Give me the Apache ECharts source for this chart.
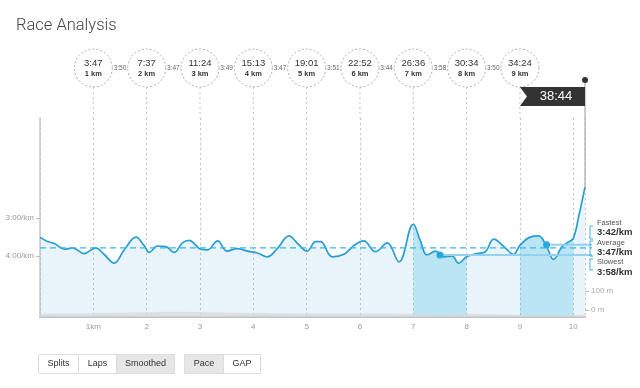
<!DOCTYPE html>
<html><head><meta charset="utf-8">
<script src="https://cdn.jsdelivr.net/npm/echarts@6/dist/echarts.min.js"></script>
<style>html,body{margin:0;padding:0;background:#fff}#c{width:640px;height:388px}</style>
</head><body><div id="c"></div>
<script>
// ---- data ----
const paceKm = [0.00,0.14,0.27,0.46,0.61,0.83,1.04,1.20,1.39,1.58,1.80,1.95,2.05,2.20,2.36,2.52,2.67,2.80,2.89,3.01,3.14,3.33,3.51,3.70,3.89,4.08,4.26,4.45,4.67,4.83,5.01,5.17,5.26,5.48,5.70,5.89,6.07,6.29,6.51,6.73,7.00,7.13,7.26,7.42,7.57,7.73,7.85,8.00,8.19,8.35,8.51,8.70,8.88,9.00,9.19,9.35,9.50,9.63,9.79,9.90,10.00,10.10,10.22];
const paceSec = [210,217,220,229,227,236,227,237,251,230,210,223,234,224,225,234,219,215,220,229,230,216,232,228,232,235,241,228,208,220,232,217,217,241,237,223,216,233,219,249,190,215,238,232,241,240,251,241,236,233,213,225,237,223,210,208,225,245,225,218,212,178,131];
const elevKm = [0,0.5,1,1.5,2,2.5,3,3.5,4,4.5,5,5.5,6,6.5,7,7.5,8,8.5,9,9.5,10,10.22];
const elevM = [-20,-19,-17,-15,-12,-9,-11,-14,-16,-17,-18,-18,-19,-19,-21,-22,-21,-23,-26,-27,-27,-26];
const kmMarks = [1,2,3,4,5,6,7,8,9];
const cumTimes = ['3:47','7:37','11:24','15:13','19:01','22:52','26:36','30:34','34:24'];
const splitPaces = ['3:50','3:47','3:49','3:47','3:51','3:44','3:58','3:50'];
const highlightRanges = [[7,8],[9,10]];
const finishKm = 10.22;
const finishTime = '38:44';
const paceTicks = [180,240];
const elevTicks = [0,100];
const fastest = {km:9.5, sec:222, label:'3:42/km'};
const slowest = {km:7.5, sec:238, label:'3:58/km'};
const average = {sec:227, label:'3:47/km'};

const pts = paceKm.map((k,i)=>[k,paceSec[i]]);
const elevPts = elevKm.map((k,i)=>[k,elevM[i]]);
function fmtPace(s){const m=Math.floor(s/60),r=s%60;return m+':'+(r<10?'0':'')+r+'/km';}

const chart = echarts.init(document.getElementById('c'), null, {renderer:'canvas'});
const FF = '"Liberation Sans", Arial, sans-serif';

const hlSeries = highlightRanges.map(r=>({
  type:'line', smooth:0.4, symbol:'none', silent:true, z:3,
  data: pts.filter(p=>p[0]>=r[0]-1e-9 && p[0]<=r[1]+1e-9),
  lineStyle:{width:0, opacity:0},
  areaStyle:{origin:'end', color:'rgba(100,200,235,0.5)'}
}));

chart.setOption({
  animation:false,
  title:{text:'Race Analysis', left:11, top:12, textStyle:{fontFamily:'Roboto, sans-serif', fontWeight:300, fontSize:16.5, color:'#444'}},
  grid:{left:40, right:55, top:118, bottom:71},
  xAxis:{type:'value', min:0, max:finishKm, interval:1,
    axisLine:{onZero:false, lineStyle:{color:'#c4c4c4', width:2}},
    axisTick:{show:false},
    splitLine:{show:true, lineStyle:{color:'#c4c4c4', type:[2,3], width:1}},
    axisLabel:{color:'#999', fontSize:8, fontFamily:FF, margin:6, showMinLabel:false, showMaxLabel:false,
      formatter:v=> v===1 ? '1km' : String(v)}
  },
  yAxis:[
    {type:'value', inverse:true, min:22, max:336, position:'left',
      axisLine:{show:true, onZero:false, lineStyle:{color:'#c8c8c8', width:1.5}},
      axisTick:{show:true, customValues:paceTicks, length:4, lineStyle:{color:'#bbb'}},
      axisLabel:{customValues:paceTicks, formatter:v=>fmtPace(v), color:'#999', fontSize:8, fontFamily:FF, margin:6},
      splitLine:{show:false}},
    {type:'value', min:-37, max:1010, position:'right',
      axisLine:{show:false, onZero:false},
      axisTick:{show:true, customValues:elevTicks, length:4, inside:false, lineStyle:{color:'#bbb'}},
      axisLabel:{customValues:elevTicks, formatter:v=>v+' m', color:'#aaa', fontSize:8, fontFamily:FF, margin:6},
      splitLine:{show:false}}
  ],
  series:[
    {type:'line', smooth:0.4, symbol:'none', silent:true, z:2, data:pts,
      lineStyle:{width:0, opacity:0}, areaStyle:{origin:'end', color:'rgba(40,155,210,0.15)'}},
    ...hlSeries,
    {type:'line', smooth:0.4, symbol:'none', silent:true, z:4, yAxisIndex:1, data:elevPts,
      lineStyle:{width:0, opacity:0}, areaStyle:{origin:'start', color:'#d9d9d9'}},
    {type:'line', smooth:0.4, symbol:'none', silent:true, z:6, data:pts,
      lineStyle:{width:1.7, color:'#2a9dd2'}}
  ]
});

function px(x,y){return chart.convertToPixel({xAxisIndex:0,yAxisIndex:0},[x,y]);}
const g = [];
const circY = 68, R = 19;
kmMarks.forEach((k,i)=>{
  const x = px(k,200)[0];
  g.push({type:'line', z:1, shape:{x1:x,y1:circY+R,x2:x,y2:118}, style:{stroke:'#c4c4c4', lineWidth:1, lineDash:[2,3]}});
  g.push({type:'circle', z:5, shape:{cx:x,cy:circY,r:R}, style:{fill:'#fff', stroke:'#aaa', lineWidth:1, lineDash:[2,2]}});
  g.push({type:'text', z:6, x:x, y:circY-5, style:{text:cumTimes[i], fill:'#333', font:'9.5px '+FF, align:'center', verticalAlign:'middle'}});
  g.push({type:'text', z:6, x:x, y:circY+6, style:{text:k+' km', fill:'#333', font:'bold 7.5px '+FF, align:'center', verticalAlign:'middle'}});
  if(i<splitPaces.length){
    const xm = (x + px(k+1,200)[0])/2;
    g.push({type:'text', z:6, x:xm, y:circY, style:{text:splitPaces[i], fill:'#666', font:'6.5px '+FF, align:'center', verticalAlign:'middle'}});
  }
});
// finish flag
const xf = px(finishKm,200)[0], x9 = px(9,200)[0];
const yEnd = px(finishKm, paceSec[paceSec.length-1])[1];
g.push({type:'line', z:5, shape:{x1:xf,y1:80,x2:xf,y2:yEnd}, style:{stroke:'#aaa', lineWidth:1.2}});
g.push({type:'circle', z:6, shape:{cx:xf,cy:80,r:3}, style:{fill:'#333'}});
g.push({type:'polygon', z:6, shape:{points:[[x9,87],[xf,87],[xf,106],[x9,106],[x9+7,96.5]]}, style:{fill:'#333'}});
g.push({type:'text', z:7, x:(x9+7+xf)/2, y:96.5, style:{text:finishTime, fill:'#fff', font:'13px '+FF, align:'center', verticalAlign:'middle'}});
// average, fastest, slowest lines
const xr = xf + 7;
const pa0 = px(0,average.sec);
g.push({type:'line', z:8, shape:{x1:pa0[0],y1:pa0[1],x2:xr,y2:pa0[1]}, style:{stroke:'#3bb5e8', lineWidth:1.2, lineDash:[6,4]}});
[fastest, slowest].forEach(s=>{
  const p = px(s.km, s.sec);
  g.push({type:'line', z:7, shape:{x1:p[0],y1:p[1],x2:xr,y2:p[1]}, style:{stroke:'#93d2ee', lineWidth:2}});
  g.push({type:'circle', z:9, shape:{cx:p[0],cy:p[1],r:3.5}, style:{fill:'#27a9df'}});
});
// brackets and labels
const bx = xf + 5;
[[226,239],[241,256],[259,270]].forEach(b=>{
  g.push({type:'polyline', z:8, shape:{points:[[bx+3,b[0]],[bx,b[0]],[bx,b[1]],[bx+3,b[1]]]}, style:{stroke:'#3aaee0', lineWidth:1, fill:null}});
});
const lx = xf + 12;
[['Fastest',223,fastest.label,232],['Average',243,average.label,252],['Slowest',262,slowest.label,272]].forEach(r=>{
  g.push({type:'text', z:9, x:lx, y:r[1], style:{text:r[0], fill:'#555', font:'7.5px '+FF, verticalAlign:'middle'}});
  g.push({type:'text', z:9, x:lx, y:r[3], style:{text:r[2], fill:'#333', font:'bold 9.5px '+FF, verticalAlign:'middle'}});
});
// buttons
function btnGroup(x, y, items){
  let cx = x;
  items.forEach(it=>{
    g.push({type:'rect', z:5, shape:{x:cx+0.5,y:y+0.5,width:it.w,height:19}, style:{fill:it.on?'#e6e6e6':'#fff', stroke:'#dcdcdc', lineWidth:1}});
    g.push({type:'text', z:6, x:cx+it.w/2+0.5, y:y+10, style:{text:it.t, fill:'#333', font:'9px '+FF, align:'center', verticalAlign:'middle'}});
    cx += it.w;
  });
}
btnGroup(38, 354, [{t:'Splits',w:40},{t:'Laps',w:38},{t:'Smoothed',w:58,on:true}]);
btnGroup(184, 354, [{t:'Pace',w:39,on:true},{t:'GAP',w:37}]);
chart.setOption({graphic:{elements:g}});
</script></body></html>
